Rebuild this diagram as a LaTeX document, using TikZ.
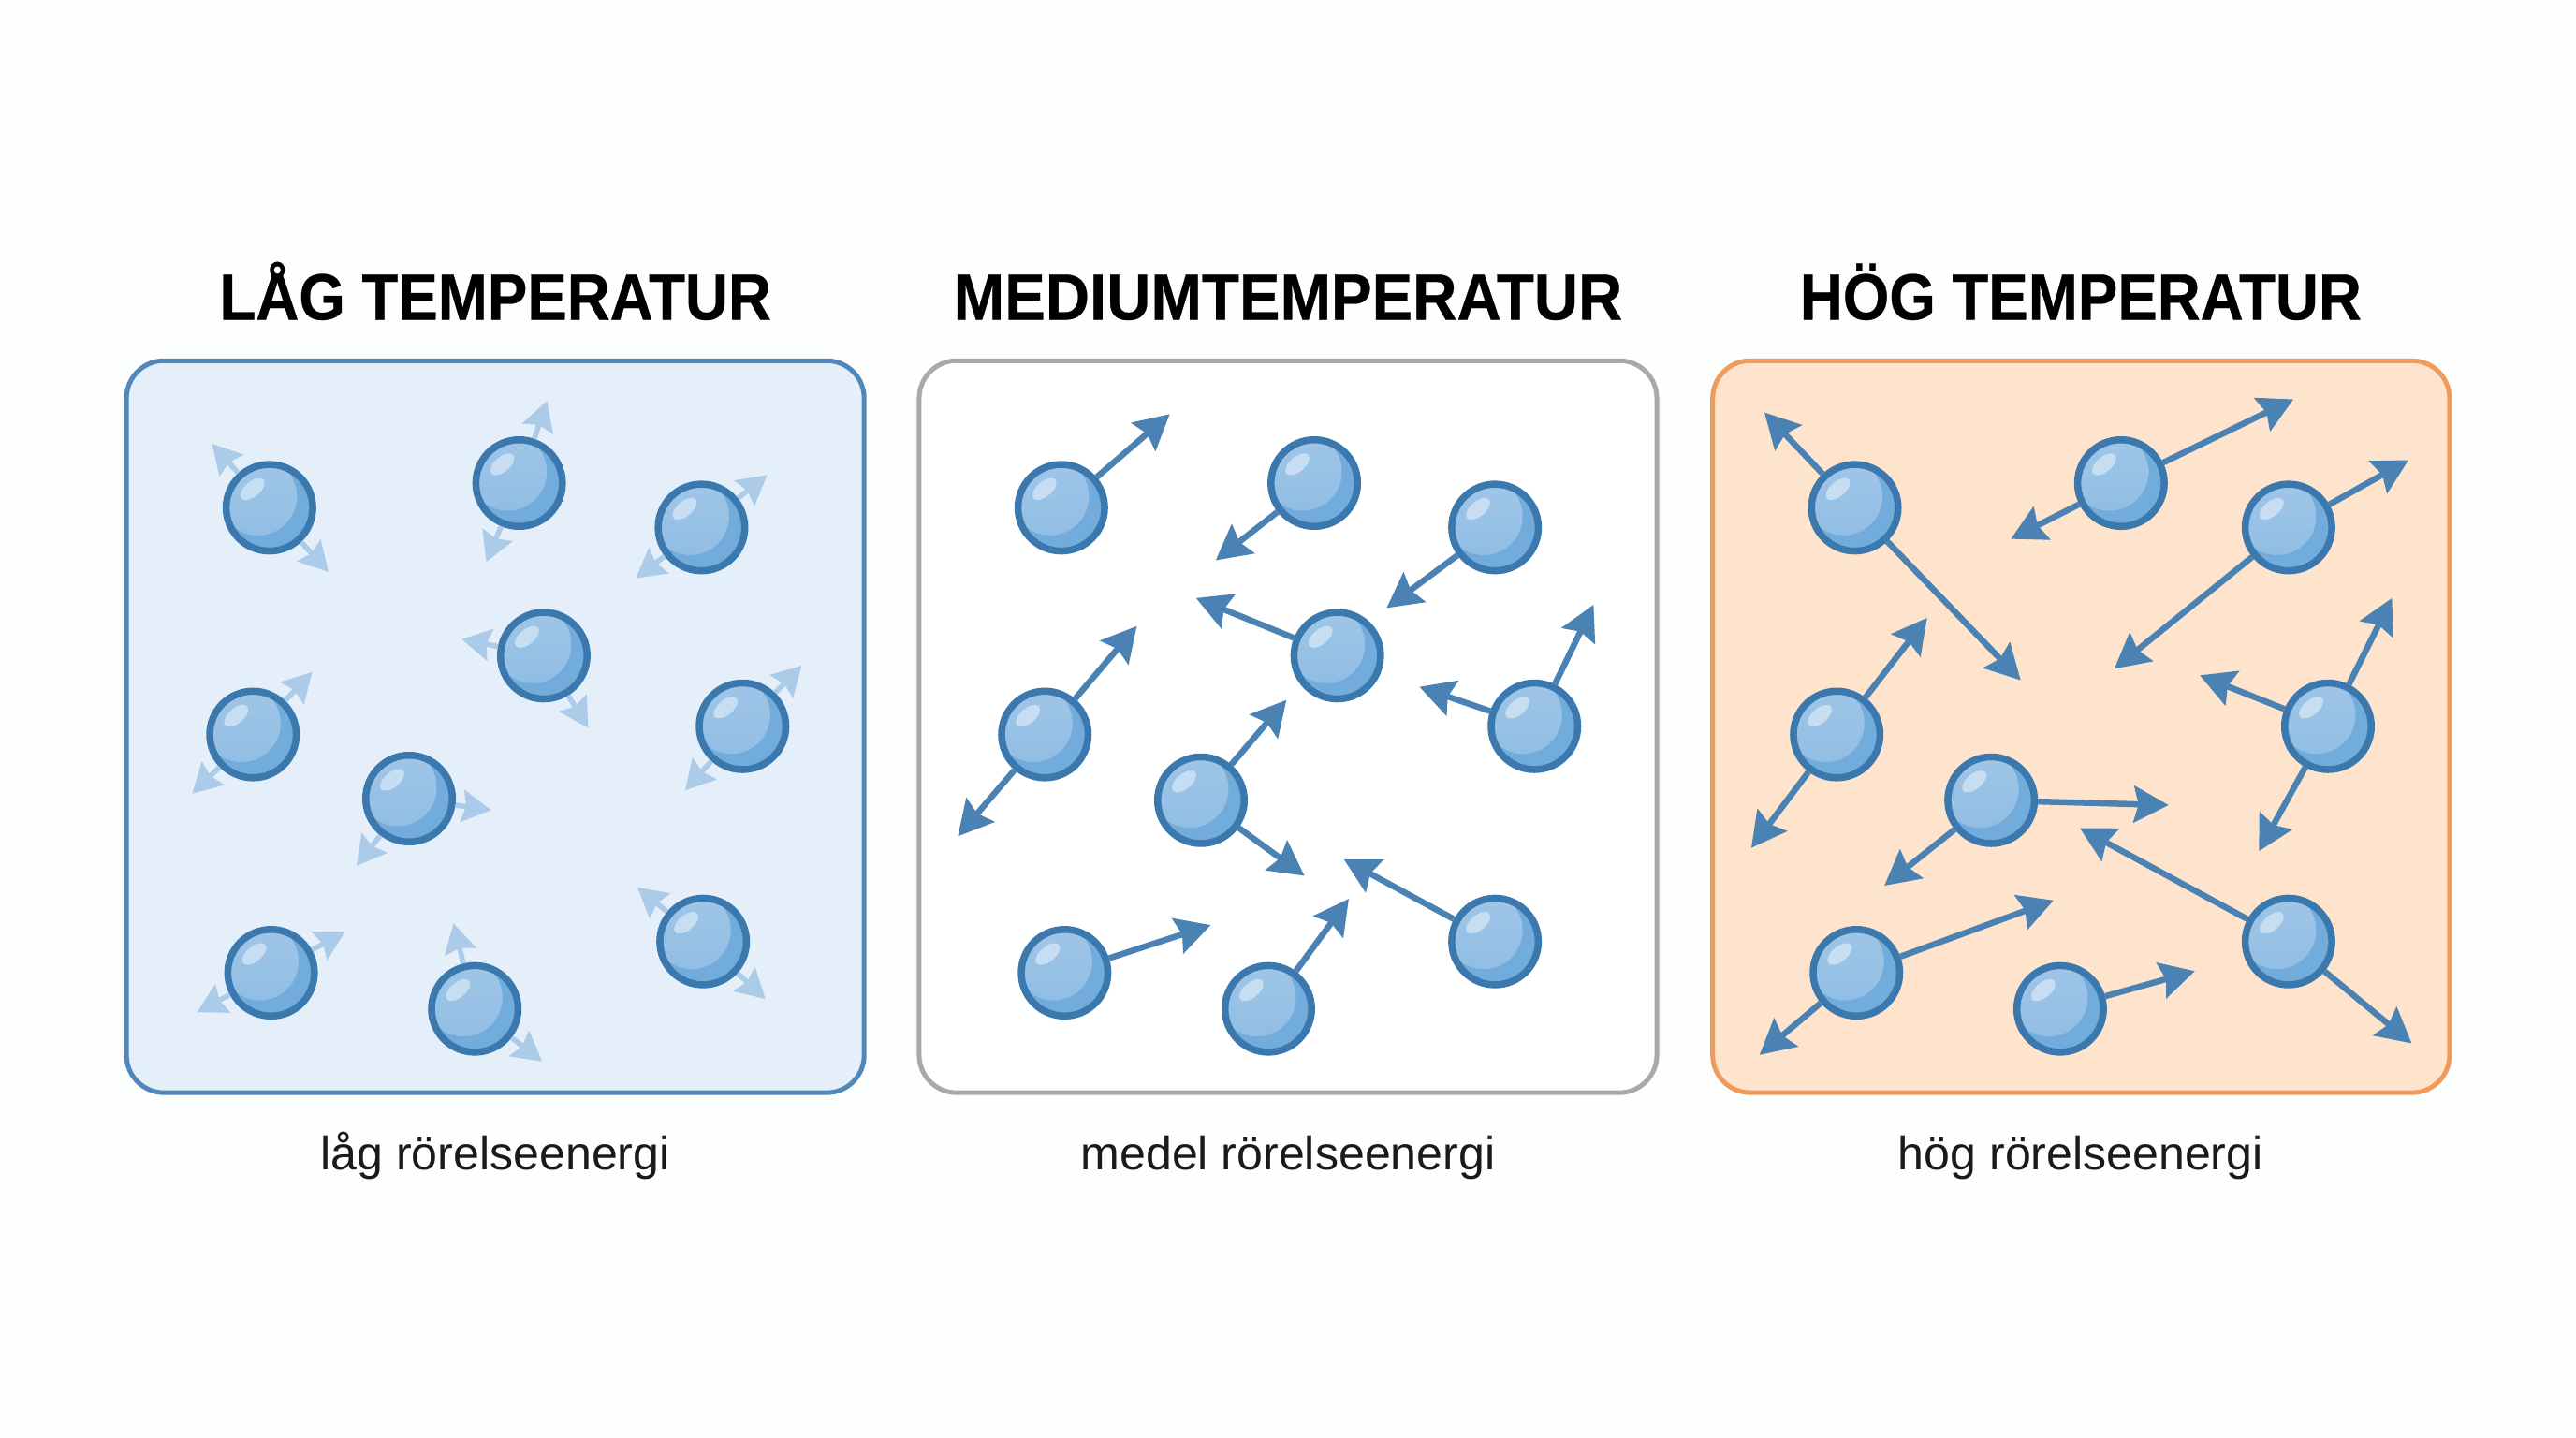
\documentclass[tikz,border=0pt]{standalone}
\usepackage{fontspec}
\setmainfont{Liberation Sans}
\newfontfamily\headingfont{Liberation Sans Bold}[FakeStretch=0.91,FakeBold=0.4]
\newfontfamily\headingwidefont{Liberation Sans Bold}[FakeStretch=0.935,FakeBold=0.4]
\usetikzlibrary{arrows.meta}
\definecolor{paper}{HTML}{FDFEFE}
\definecolor{ballrim}{HTML}{3B78AD}
\definecolor{ballbase}{HTML}{72ACDC}
\definecolor{balltop}{HTML}{A0C6E8}
\definecolor{ballbot}{HTML}{8FBCE3}
\definecolor{ballglint}{HTML}{C6DDF2}
\definecolor{slowarrow}{HTML}{ABCBE9}
\definecolor{fastarrow}{HTML}{4A82B3}
\definecolor{coldrim}{HTML}{5088BB}
\definecolor{coldfill}{HTML}{E4EFFA}
\definecolor{plainrim}{HTML}{A9A9A9}
\definecolor{hotrim}{HTML}{EE9B5B}
\definecolor{hotfill}{HTML}{FEE4CC}
\definecolor{captionink}{HTML}{1A1A1A}
\tikzset{
  panel/.style={line width=0.05cm,rounded corners=0.4cm},
  coldpanel/.style={panel,draw=coldrim,fill=coldfill},
  plainpanel/.style={panel,draw=plainrim,fill=white},
  hotpanel/.style={panel,draw=hotrim,fill=hotfill},
  heading/.style={font=\headingfont\fontsize{19.9pt}{24pt}\selectfont,text=black,anchor=base},
  wideheading/.style={heading,font=\headingwidefont\fontsize{19.9pt}{24pt}\selectfont},
  caption/.style={font=\fontsize{14.25pt}{17pt}\selectfont,text=captionink,anchor=base},
  particle/.style={circle,draw=ballrim,fill=ballbase,line width=0.075cm,minimum size=0.925cm,inner sep=0pt,
    path picture={
      \shade[top color=balltop,bottom color=ballbot]
        ([xshift=-0.12cm,yshift=0.12cm]path picture bounding box.center) circle[radius=0.415cm];
      \fill[ballglint]
        ([xshift=-0.18cm,yshift=0.20cm]path picture bounding box.center)
        ellipse[x radius=0.155cm,y radius=0.08cm,rotate=40];
    }},
  slowmotion/.style={line width=0.055cm,draw=slowarrow,fill=slowarrow,
    -{Stealth[length=0.31cm,width=0.34cm,inset=0.04cm]}},
  fastmotion/.style={line width=0.065cm,draw=fastarrow,fill=fastarrow,
    -{Stealth[length=0.37cm,width=0.39cm,inset=0.05cm]}},
}
% \mover{style}{particle}{tag}{x}{y}: velocity arrow from a particle to a named free end
\newcommand{\mover}[5]{\coordinate (#2#3) at (#4,#5); \draw[#1] (#2) -- (#2#3);}
\newcommand{\ballat}[3]{\node[particle] (#1) at (#2,#3) {};}
\begin{document}
\begin{tikzpicture}[x=0.017551cm,y=-0.017551cm]
\useasboundingbox (0,0) rectangle (1568,875);
\fill[paper] (0,0) rectangle (1568,875);

% Panels
\draw[coldpanel] (77,219.5) rectangle (526,665);
\draw[plainpanel] (559.5,219.5) rectangle (1008.5,665);
\draw[hotpanel] (1042.5,219.5) rectangle (1491,665);

% Headings and captions
\node[heading] (titleA) at (301.5,194.5) {LÅG TEMPERATUR};
\node[wideheading] (titleB) at (784,194.5) {MEDIUMTEMPERATUR};
\node[heading] (titleC) at (1266.5,194.5) {HÖG TEMPERATUR};
\node[caption] (capA) at (301.5,712) {låg rörelseenergi};
\node[caption] (capB) at (784,712) {medel rörelseenergi};
\node[caption] (capC) at (1266.5,712) {hög rörelseenergi};

% Low temperature: short, faint arrows
\ballat{a1}{164}{309}\ballat{a2}{316}{294}\ballat{a3}{427}{321}\ballat{a4}{331}{399}\ballat{a5}{154}{447}
\ballat{a6}{452}{442}\ballat{a7}{249}{486}\ballat{a8}{165}{592}\ballat{a9}{428}{573}\ballat{a10}{289}{614}
\mover{slowmotion}{a1}{p}{129}{270}\mover{slowmotion}{a1}{q}{200}{348}
\mover{slowmotion}{a2}{p}{333}{244}\mover{slowmotion}{a2}{q}{296}{342}
\mover{slowmotion}{a3}{p}{467}{289}\mover{slowmotion}{a3}{q}{387}{352}
\mover{slowmotion}{a4}{p}{281}{389}\mover{slowmotion}{a4}{q}{358}{443}
\mover{slowmotion}{a5}{p}{190}{409}\mover{slowmotion}{a5}{q}{117}{483}
\mover{slowmotion}{a6}{p}{488}{405}\mover{slowmotion}{a6}{q}{417}{481}
\mover{slowmotion}{a7}{p}{299}{493}\mover{slowmotion}{a7}{q}{217}{527}
\mover{slowmotion}{a8}{p}{210}{567}\mover{slowmotion}{a8}{q}{120}{616}
\mover{slowmotion}{a9}{p}{388}{540}\mover{slowmotion}{a9}{q}{466}{608}
\mover{slowmotion}{a10}{p}{276}{562}\mover{slowmotion}{a10}{q}{330}{646}

% Medium temperature
\ballat{b1}{646}{309}\ballat{b2}{800}{294}\ballat{b3}{910}{321}\ballat{b4}{814}{399}\ballat{b5}{636}{447}
\ballat{b6}{934}{442}\ballat{b7}{731}{487}\ballat{b8}{648}{592}\ballat{b9}{910}{573}\ballat{b10}{772}{614}
\mover{fastmotion}{b1}{p}{712}{252}
\mover{fastmotion}{b2}{p}{740}{341}
\mover{fastmotion}{b3}{p}{844}{370}
\mover{fastmotion}{b4}{p}{728}{364}
\mover{fastmotion}{b5}{p}{692}{381}\mover{fastmotion}{b5}{q}{583}{509}
\mover{fastmotion}{b6}{p}{970}{368}\mover{fastmotion}{b6}{q}{864}{418}
\mover{fastmotion}{b7}{p}{783}{426}\mover{fastmotion}{b7}{q}{794}{533}
\mover{fastmotion}{b8}{p}{737}{563}
\mover{fastmotion}{b9}{p}{818}{523}
\mover{fastmotion}{b10}{p}{821}{547}

% High temperature
\ballat{c1}{1129}{309}\ballat{c2}{1291}{294}\ballat{c3}{1393}{321}\ballat{c5}{1118}{447}
\ballat{c6}{1417}{442}\ballat{c7}{1212}{487}\ballat{c8}{1130}{592}\ballat{c9}{1393}{573}\ballat{c10}{1254}{614}
\mover{fastmotion}{c1}{p}{1074}{251}\mover{fastmotion}{c1}{q}{1230}{414}
\mover{fastmotion}{c2}{p}{1396}{243}\mover{fastmotion}{c2}{q}{1224}{328}
\mover{fastmotion}{c3}{p}{1466}{280}\mover{fastmotion}{c3}{q}{1287}{407}
\mover{fastmotion}{c5}{p}{1173}{376}\mover{fastmotion}{c5}{q}{1066}{516}
\mover{fastmotion}{c6}{p}{1456}{364}\mover{fastmotion}{c6}{q}{1339}{411}\mover{fastmotion}{c6}{r}{1375}{518}
\mover{fastmotion}{c7}{p}{1320}{490}\mover{fastmotion}{c7}{q}{1147}{539}
\mover{fastmotion}{c8}{p}{1250}{548}\mover{fastmotion}{c8}{q}{1071}{642}
\mover{fastmotion}{c9}{p}{1266}{504}\mover{fastmotion}{c9}{q}{1468}{635}
\mover{fastmotion}{c10}{p}{1336}{591}
\end{tikzpicture}
\end{document}
